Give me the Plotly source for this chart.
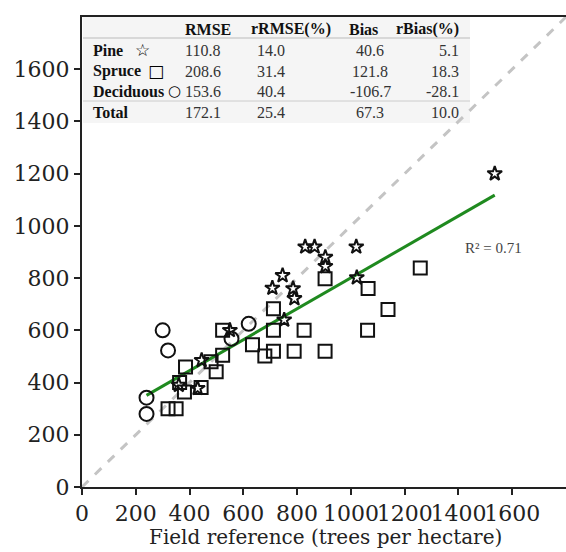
import plotly.graph_objects as go

# ---------------- data ----------------
pine_x = [360, 430, 445, 550, 708, 746, 752, 785, 790, 830, 865, 905, 905, 1020, 1022, 1535]
pine_y = [390, 378, 485, 600, 762, 810, 640, 760, 722, 920, 920, 880, 845, 920, 802, 1200]

spruce_x = [320, 350, 363, 381, 385, 443, 480, 499, 523, 523, 634, 680, 712, 712, 712,
            789, 826, 904, 904, 1062, 1064, 1138, 1258]
spruce_y = [300, 300, 400, 364, 460, 381, 480, 441, 505, 600, 545, 502, 520, 600, 683,
            520, 600, 520, 798, 600, 760, 680, 839]

decid_x = [240, 240, 300, 320, 556, 620]
decid_y = [280, 342, 600, 523, 568, 625]

fit_slope = 0.592
fit_intercept = 209
r2_text = "R\u00b2 = 0.71"

table_header = ["RMSE", "rRMSE(%)", "Bias", "rBias(%)"]
table_rows = ["Pine", "Spruce", "Deciduous", "Total"]
table_rmse = ["110.8", "208.6", "153.6", "172.1"]
table_rrmse = ["14.0", "31.4", "40.4", "25.4"]
table_bias = ["40.6", "121.8", "-106.7", "67.3"]
table_rbias = ["5.1", "18.3", "-28.1", "10.0"]
row_symbols = ["\u2606", "\u25a1", "\u25cb", ""]

x_ticks = [0, 200, 400, 600, 800, 1000, 1200, 1400, 1600]
y_ticks = [0, 200, 400, 600, 800, 1000, 1200, 1400, 1600]

# ---------------- figure ----------------
W, H = 566, 552
ML, MR, MT, MB = 82, 0, 17, 65
PW, PH = W - ML - MR, H - MT - MB


def px(xp):
    return (xp - ML) / PW


def py(yp):
    return 1 - (yp - MT) / PH


fig = go.Figure()

# 1:1 line
fig.add_trace(go.Scatter(x=[0, 1800], y=[0, 1800], mode="lines",
                         line=dict(color="#c4c4c4", width=3, dash="dash"),
                         hoverinfo="skip", showlegend=False))

all_x = pine_x + spruce_x + decid_x
xmin, xmax = min(all_x), max(all_x)
fig.add_trace(go.Scatter(x=[xmin, xmax],
                         y=[fit_slope * xmin + fit_intercept, fit_slope * xmax + fit_intercept],
                         mode="lines", line=dict(color="#1f8a1f", width=3),
                         showlegend=False))

mk_line = dict(color="#111111", width=2)
fig.add_trace(go.Scatter(x=spruce_x, y=spruce_y, mode="markers", name="Spruce",
                         marker=dict(symbol="square-open", size=13, color="#111111", line=mk_line),
                         showlegend=False))
fig.add_trace(go.Scatter(x=decid_x, y=decid_y, mode="markers", name="Deciduous",
                         marker=dict(symbol="circle-open", size=14, color="#111111", line=mk_line),
                         showlegend=False))
fig.add_trace(go.Scatter(x=pine_x, y=pine_y, mode="markers", name="Pine",
                         marker=dict(symbol="star-open", size=11, color="#111111", line=mk_line),
                         showlegend=False))

# ---------------- table ----------------
shapes = []
shapes.append(dict(type="rect", xref="paper", yref="paper",
                   x0=px(83), x1=px(470), y0=py(123), y1=py(17),
                   fillcolor="#f5f5f5", line=dict(width=0), layer="below"))
shapes.append(dict(type="line", xref="paper", yref="paper",
                   x0=px(83), x1=px(470), y0=py(38), y1=py(38),
                   line=dict(color="#bbbbbb", width=1)))
shapes.append(dict(type="line", xref="paper", yref="paper",
                   x0=px(83), x1=px(470), y0=py(101), y1=py(101),
                   line=dict(color="#cccccc", width=1)))

ann = []
tf = "Liberation Serif"
fs = 16
hdr_y = 29
row_ys = [50, 71, 91, 112]
hdr_pos = [(183, "left"), (249, "left"), (363, "center"), (461, "right")]
for (xp, al), t in zip(hdr_pos, table_header):
    ann.append(dict(x=px(xp), y=py(hdr_y), xref="paper", yref="paper", text="<b>%s</b>" % t,
                    showarrow=False, xanchor=al, yanchor="middle",
                    font=dict(family=tf, size=fs, color="#111111")))
sym_x = [142, 156, 174]
sym_size = [17, 17, 15]
for i, (lab, ry) in enumerate(zip(table_rows, row_ys)):
    ann.append(dict(x=px(91), y=py(ry), xref="paper", yref="paper", text="<b>%s</b>" % lab,
                    showarrow=False, xanchor="left", yanchor="middle",
                    font=dict(family=tf, size=fs, color="#111111")))
    if row_symbols[i]:
        ann.append(dict(x=px(sym_x[i]), y=py(ry), xref="paper", yref="paper", text="<b>%s</b>" % row_symbols[i],
                        showarrow=False, xanchor="center", yanchor="middle",
                        font=dict(family="DejaVu Sans", size=sym_size[i], color="#000000")))
    vals = [(183, "left", table_rmse[i]), (255, "left", table_rrmse[i]),
            (370, "center", table_bias[i]), (461, "right", table_rbias[i])]
    for xp, al, v in vals:
        ann.append(dict(x=px(xp), y=py(ry), xref="paper", yref="paper", text=v,
                        showarrow=False, xanchor=al, yanchor="middle",
                        font=dict(family=tf, size=fs, color="#333333")))

ann.append(dict(x=1530, y=915, xref="x", yref="y", text=r2_text, showarrow=False,
                xanchor="center", yanchor="middle",
                font=dict(family=tf, size=15, color="#444444")))

ann.append(dict(x=px(325), y=py(537), xref="paper", yref="paper",
                text="Field reference (trees per hectare)", showarrow=False,
                xanchor="center", yanchor="middle",
                font=dict(family="DejaVu Serif", size=20, color="#222222")))

fig.update_layout(
    width=W, height=H,
    margin=dict(l=ML, r=MR, t=MT, b=MB, pad=0),
    paper_bgcolor="white", plot_bgcolor="white",
    shapes=shapes, annotations=ann,
    xaxis=dict(range=[0, 1800], tickvals=x_ticks, ticktext=[str(v) for v in x_ticks],
               tickangle=0,
               showgrid=False, zeroline=False, showline=True, linecolor="#222222", linewidth=2,
               mirror=True, ticks="outside", ticklen=6, tickwidth=1.5, tickcolor="#222222",
               tickfont=dict(family="DejaVu Serif", size=22, color="#222222")),
    yaxis=dict(range=[0, 1800], tickvals=y_ticks, ticktext=[str(v) for v in y_ticks],
               showgrid=False, zeroline=False, showline=True, linecolor="#222222", linewidth=2,
               mirror=False, ticks="outside", ticklen=6, tickwidth=1.5, tickcolor="#222222",
               tickfont=dict(family="DejaVu Serif", size=22, color="#222222")),
)

fig.write_html("out.html")
